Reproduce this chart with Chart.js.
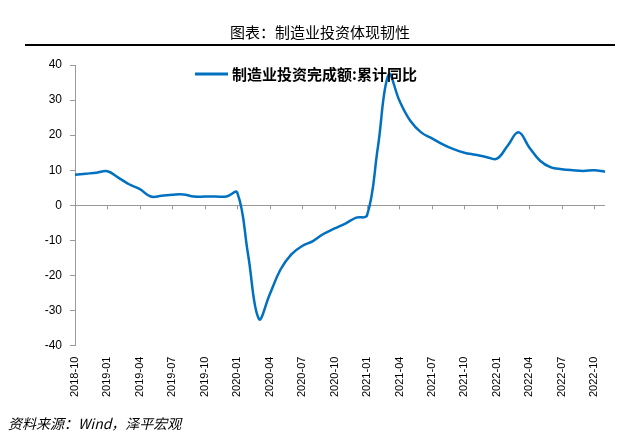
<!DOCTYPE html>
<html>
<head>
<meta charset="utf-8">
<script src="https://cdn.jsdelivr.net/npm/chart.js@4"></script>
<style>
  body { margin: 0; background: #fff; }
  #wrap { position: relative; width: 640px; height: 443px; }
</style>
</head>
<body>
<div id="wrap"><canvas id="chart" width="640" height="443"></canvas></div>
<script>
// monthly labels 2018-10 .. 2022-11
const months = [];
for (let y = 2018, m = 10; months.length < 50; m++) {
    if (m > 12) { m = 1; y++; }
    months.push(y + '-' + String(m).padStart(2, '0'));
}
const seriesName = '制造业投资完成额:累计同比';
const values = [
    8.7, 9.0, 9.3, 9.7, 7.9, 6.0, 4.6, 2.5, 2.7, 3.0,
    3.1, 2.5, 2.5, 2.5, 2.5, 3.6, -14, -32.4, -25.4, -18.3,
    -14, -11.6, -10.2, -8.1, -6.6, -5.2, -3.5, -2.9, 16.5, 37.3,
    29.8, 24.1, 20.8, 19.1, 17.4, 16.0, 15.0, 14.4, 13.8, 13.3,
    17.0, 20.8, 16.5, 12.7, 10.8, 10.3, 10.0, 9.8, 10.0, 9.6
];
const yTicks = [-40, -30, -20, -10, 0, 10, 20, 30, 40];

const decor = {
    id: 'decor',
    afterDraw(chart) {
        const ctx = chart.ctx;
        ctx.save();
        // title
        ctx.fillStyle = '#000';
        ctx.font = '15px "Noto Sans CJK SC"';
        ctx.textAlign = 'center';
        ctx.textBaseline = 'middle';
        ctx.fillText('图表：制造业投资体现韧性', 320, 32);
        ctx.strokeStyle = '#000';
        ctx.lineWidth = 2;
        ctx.beginPath(); ctx.moveTo(25, 45); ctx.lineTo(615, 45); ctx.stroke();
        // legend
        ctx.strokeStyle = '#0070c0';
        ctx.lineWidth = 3;
        ctx.beginPath(); ctx.moveTo(195, 74); ctx.lineTo(228, 74); ctx.stroke();
        ctx.textAlign = 'left';
        ctx.font = 'bold 15px "Noto Sans CJK SC"';
        ctx.fillText(seriesName, 232, 74);
        // source
        ctx.font = 'italic 14px "Noto Sans CJK SC"';
        ctx.fillText('资料来源：Wind，泽平宏观', 8, 424);
        // x ticks on zero line
        const y0 = chart.scales.y.getPixelForValue(0);
        const xs = chart.scales.x;
        ctx.strokeStyle = '#999';
        ctx.lineWidth = 1;
        for (let i = 0; i < months.length; i += 3) {
            const x = Math.round(xs.getPixelForValue(i)) + 0.5;
            ctx.beginPath(); ctx.moveTo(x, y0); ctx.lineTo(x, y0 + 4); ctx.stroke();
        }
        ctx.restore();
    }
};

new Chart(document.getElementById('chart'), {
    type: 'line',
    data: {
        labels: months,
        datasets: [{
            label: seriesName,
            data: values,
            borderColor: '#0070c0',
            borderWidth: 2.5,
            pointRadius: 0,
            tension: 0.4,
            fill: false
        }]
    },
    options: {
        responsive: false,
        animation: false,
        layout: { padding: { top: 65, right: 35, bottom: 43, left: 10 } },
        plugins: { legend: { display: false }, tooltip: { enabled: false } },
        scales: {
            x: {
                offset: false,
                grid: { display: false },
                border: { display: false },
                ticks: {
                    autoSkip: false,
                    maxRotation: 90,
                    minRotation: 90,
                    color: '#000',
                    font: { family: '"Liberation Sans", Arial, sans-serif', size: 11 },
                    callback: (v, i) => i % 3 === 0 ? months[i] : ''
                }
            },
            y: {
                min: -40, max: 40,
                afterBuildTicks: s => { s.ticks = yTicks.map(v => ({ value: v })); },
                afterFit: s => { s.width = 65; },
                grid: {
                    drawOnChartArea: true,
                    color: c => c.tick && c.tick.value === 0 ? '#999' : 'rgba(0,0,0,0)',
                    tickColor: '#999',
                    tickLength: 5
                },
                border: { color: '#999' },
                ticks: {
                    color: '#000',
                    padding: 8,
                    font: { family: '"Liberation Sans", Arial, sans-serif', size: 12 }
                }
            }
        }
    },
    plugins: [decor]
});
</script>
</body>
</html>
